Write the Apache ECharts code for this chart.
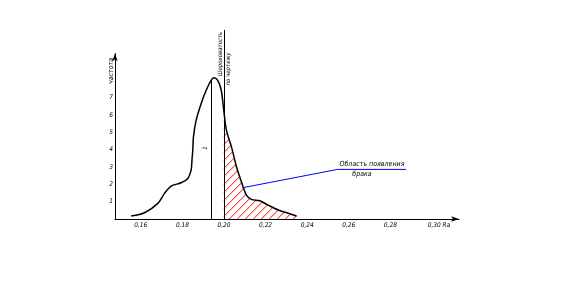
<!DOCTYPE html>
<html>
<head>
<meta charset="utf-8">
<script src="https://cdn.jsdelivr.net/npm/echarts@6/dist/echarts.min.js"></script>
<style>html,body{margin:0;padding:0;background:#fff;}#c{width:561px;height:307px;}</style>
</head>
<body>
<div id="c"></div>
<script>
// Distribution curve (Ra value, frequency)
const curveX = [0.1554,0.1618,0.1682,0.1714,0.1746,0.1794,0.1826,0.1842,0.1846,0.1850,0.1853,0.1866,0.1890,0.1914,0.1938,0.1951,0.1970,0.1987,0.2000,0.2012,0.2036,0.2060,0.2084,0.2108,0.2132,0.2172,0.2212,0.2261,0.2309,0.2349];
const curveY = [0.17,0.36,0.90,1.48,1.90,2.09,2.34,2.82,3.39,3.97,4.71,5.69,6.65,7.41,7.99,8.14,7.99,7.41,6.15,5.11,4.16,3.01,2.14,1.38,1.13,1.05,0.80,0.52,0.33,0.17];
const xTicks = [0.16,0.18,0.20,0.22,0.24,0.26,0.28,0.30];
const yTicks = [1,2,3,4,5,6,7];
const specLimit = 0.20;      // drawing requirement
const specTop = 10.9;
const meanX = 0.1941;
const meanY = 8.0;
const axisXMin = 0.1476, axisXMax = 0.313, axisYTop = 9.56;
const leaderX = [0.2088,0.2546,0.2876];
const leaderY = [1.80,2.86,2.86];

const curve = curveX.map((x,i)=>[x,curveY[i]]);
const hatched = curve.filter(p=>p[0]>=specLimit);
const leader = leaderX.map((x,i)=>[x,leaderY[i]]);

function renderHatch(params, api){
  const pts = hatched.map(p=>api.coord(p));
  const yb = api.coord([specLimit,0])[1];
  const x0 = pts[0][0], xe = pts[pts.length-1][0];
  const step = 8;
  const children = [];
  for (let c = x0 - (yb - pts[0][1]) + step; c < xe; c += step){
    const g = p => p[1] + p[0] - c - yb;
    const sx = Math.max(c, x0), sy = yb - (sx - c);
    let e = null;
    for (let i=0;i<pts.length-1;i++){
      const A=pts[i], B=pts[i+1];
      if (B[0] <= sx) continue;
      const gA=g(A), gB=g(B);
      if (gA>=0 && A[0]>=sx){ e=A; break; }
      if (gA<0 && gB>=0){ const t=gA/(gA-gB); e=[A[0]+t*(B[0]-A[0]), A[1]+t*(B[1]-A[1])]; break; }
    }
    if (!e) continue;
    children.push({type:'line',shape:{x1:sx,y1:sy,x2:e[0],y2:e[1]},style:{stroke:'#ff0000',lineWidth:1}});
  }
  return {type:'group',children:children};
}

const FF = '"DejaVu Sans Condensed","DejaVu Sans",sans-serif';
const txt = (x,y,t,rot,size,extra)=>Object.assign({type:'text',x:x,y:y,rotation:rot||0,
  style:{text:t,fontSize:size||7,fontStyle:'italic',fontFamily:FF,fill:'#000',align:'center',verticalAlign:'middle'}},extra||{});

const chart = echarts.init(document.getElementById('c'));
chart.setOption({
  animation:false,
  backgroundColor:'#fff',
  grid:{left:115,right:102,top:30,bottom:88},
  xAxis:{type:'value',min:axisXMin,max:axisXMax,
    axisLine:{show:true,lineStyle:{color:'#000',width:1},symbol:['none','arrow'],symbolSize:[4,8]},
    axisTick:{show:false},splitLine:{show:false},
    axisLabel:{customValues:xTicks,margin:3,fontSize:6.5,fontStyle:'italic',fontFamily:FF,color:'#000',
      formatter:v=>{const s=v.toFixed(2).replace('.',',');return Math.abs(v-0.30)<1e-6?'{r|'+s+' Ra}':s;},
      rich:{r:{fontSize:6.5,fontStyle:'italic',fontFamily:FF,color:'#000',padding:[0,0,0,14]}}}},
  yAxis:{type:'value',min:0,max:specTop,
    axisLine:{show:false},axisTick:{show:false},splitLine:{show:false},
    axisLabel:{customValues:yTicks,margin:2,fontSize:6.5,fontStyle:'italic',fontFamily:FF,color:'#000'}},
  series:[
    {type:'custom',data:[0],renderItem:renderHatch,z:1,silent:true},
    {type:'line',data:curve,symbol:'none',smooth:0.3,clip:false,lineStyle:{color:'#000',width:1.5},z:3,silent:true,
      markLine:{silent:true,symbol:['none','none'],label:{show:false},lineStyle:{color:'#000',width:1,type:'solid'},
        data:[
          [{coord:[axisXMin,0]},{coord:[axisXMin,axisYTop],symbol:'arrow',symbolSize:[4,8]}],
          [{coord:[meanX,0]},{coord:[meanX,meanY]}],
          [{coord:[specLimit,0]},{coord:[specLimit,specTop]}]
        ]}},
    {type:'line',data:leader,symbol:'none',lineStyle:{color:'#0000ff',width:1},z:4,silent:true}
  ],
  graphic:[
    txt(111,71,'частота',Math.PI/2,7),
    txt(220,54,'Шероховатость',Math.PI/2,6),
    txt(228,69,'по чертежу',Math.PI/2,6),
    txt(205,148,'1',Math.PI/2,6),
    txt(372,164.5,'Область появления',0,7),
    txt(362,174,'брака',0,7)
  ]
});
</script>
</body>
</html>
